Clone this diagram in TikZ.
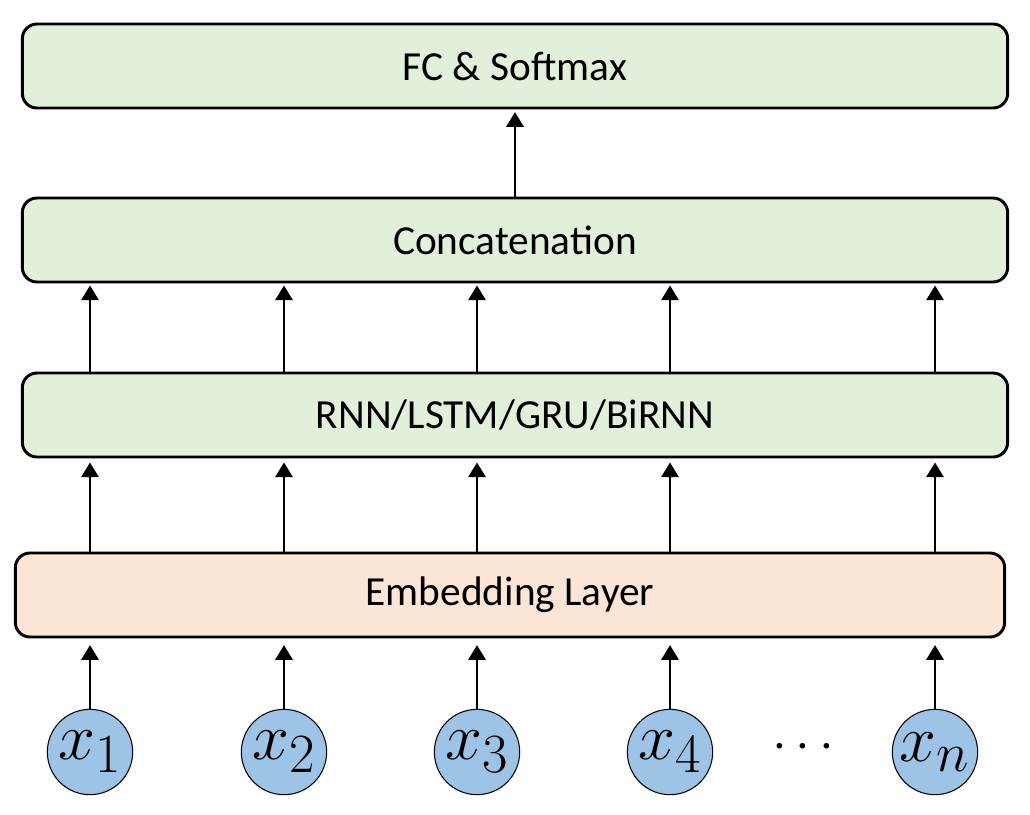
\documentclass[tikz,border=0pt]{standalone}
\usepackage{fontspec}
\setmainfont{Carlito}
\usetikzlibrary{arrows.meta}
\definecolor{boxgreen}{HTML}{E2EFDA}
\definecolor{boxpeach}{HTML}{FBE5D6}
\definecolor{nodeblue}{HTML}{9DC3E6}
\newcommand{\xvar}[1]{\scalebox{2.0}{\Huge$x_{#1}$}}
\begin{document}
\begin{tikzpicture}[x=0.75pt,y=-0.75pt,
  layerbox/.style={draw=black,line width=2.2pt,rounded corners=11pt,minimum width=739pt,minimum height=63pt,inner sep=0pt,font=\fontsize{31}{31}\selectfont},
  tok/.style={circle,draw=black,line width=0.8pt,fill=nodeblue,minimum size=64pt,inner sep=0pt},
  arr/.style={line width=1.5pt,-{Triangle[width=13pt,length=11pt]}}]
\useasboundingbox (0,0) rectangle (1030,814);
\node[layerbox,fill=boxgreen] (fc) at (515,66) {FC \& Softmax};
\node[layerbox,fill=boxgreen] (cat) at (515,240) {Concatenation};
\node[layerbox,fill=boxgreen] (rnn) at (515,415) {RNN/LSTM/GRU/BiRNN};
\node[layerbox,fill=boxpeach,minimum width=742pt] (emb) at (510,595) {Embedding Layer};
\node[tok] (c1) at (90,752) {\xvar{1}};
\node[tok] (c2) at (284,752) {\xvar{2}};
\node[tok] (c3) at (477,752) {\xvar{3}};
\node[tok] (c4) at (670,752) {\xvar{4}};
\node[tok] (cn) at (935,752) {\xvar{n}};
\node (dots) at (803,748) {\scalebox{1.6}{\Huge$\cdots$}};
\foreach \c in {c1,c2,c3,c4,cn}{
  \draw[arr,shorten >=5pt] (\c.north) -- (\c |- emb.south);
  \draw[arr,shorten >=3pt] (\c |- emb.north) -- (\c |- rnn.south);
  \draw[arr,shorten >=1.5pt] (\c |- rnn.north) -- (\c |- cat.south);
}
\draw[arr,shorten >=2pt] (cat.north) -- (fc.south);
\end{tikzpicture}
\end{document}
